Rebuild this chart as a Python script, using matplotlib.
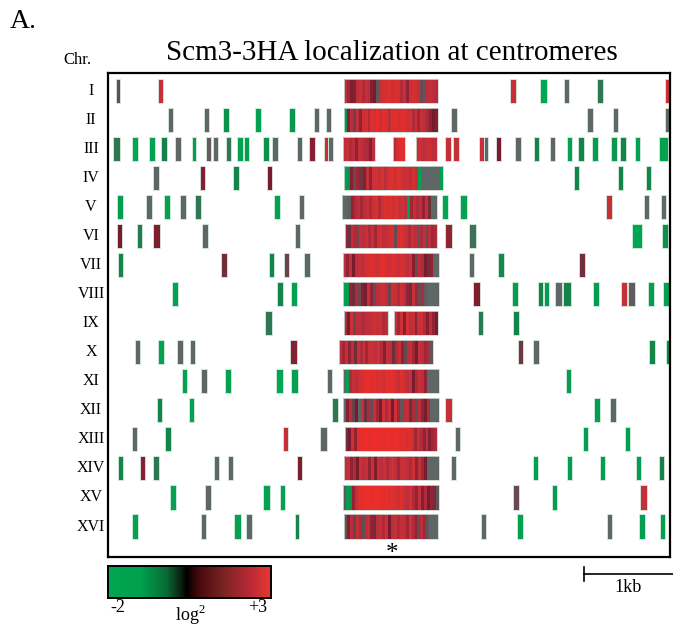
import numpy as np
import matplotlib
matplotlib.use("Agg")
import matplotlib.pyplot as plt
from matplotlib.colors import LinearSegmentedColormap, Normalize
from matplotlib.patches import Rectangle
import matplotlib.transforms as mtransforms

plt.rcParams['font.family'] = ['Liberation Serif', 'DejaVu Serif']
plt.rcParams['mathtext.fontset'] = 'custom'
plt.rcParams['mathtext.rm'] = 'Liberation Serif'

chromosomes = ['I', 'II', 'III', 'IV', 'V', 'VI', 'VII', 'VIII',
               'IX', 'X', 'XI', 'XII', 'XIII', 'XIV', 'XV', 'XVI']

# ---- isolated probes (bp relative to CEN), one list per chromosome ----
probe_start = [
    [-2760, -2340, 1180, 1480, 1720, 2050, 2730],
    [-2240, -1880, -1690, -1370, -1030, -780, -660, 590, 1950, 2210, 2730],
    [-2790, -2600, -2430, -2310, -2170, -2000, -1860, -1790, -1660, -1550, -1480,
     -1290, -1200, -950, -830, -680, -640, 530, 610, 870, 920, 1040, 1230, 1420,
     1580, 1750, 1860, 2000, 2190, 2280, 2430, 2670],
    [-2390, -1920, -1590, -1250, 1820, 2260, 2540],
    [-2750, -2460, -2280, -2120, -1970, -1180, -930, 500, 680, 2140, 2520, 2690],
    [-2750, -2550, -2390, -1900, -970, 530, 770, 2400, 2700],
    [-2740, -1710, -1230, -1080, -880, 770, 1060, 1870],
    [-2200, -1150, -1010, 810, 1200, 1460, 1520, 1630, 1710, 2010, 2290, 2360, 2560, 2710],
    [-1270, 860, 1210],
    [-2570, -2340, -2150, -2020, -1020, 1260, 1410, 2570, 2740],
    [-2100, -1910, -1670, -1160, -1010, -650, 1740],
    [-2350, -2030, -600, 530, 2020, 2180],
    [-2600, -2270, -1090, -720, 630, 1910, 2330],
    [-2740, -2520, -2390, -1780, -1640, -950, 590, 1410, 1750, 2080, 2440, 2670],
    [-2220, -1870, -1290, -1120, 1210, 1600, 2480],
    [-2600, -1910, -1580, -1460, -970, 890, 1250, 2150, 2470, 2680],
]
probe_end = [
    [-2720, -2290, 1240, 1550, 1770, 2110, 2790],
    [-2190, -1830, -1630, -1310, -970, -730, -610, 650, 2010, 2260, 2780],
    [-2720, -2540, -2370, -2250, -2110, -1960, -1810, -1740, -1610, -1490, -1430,
     -1230, -1140, -900, -770, -640, -590, 590, 670, 920, 960, 1090, 1290, 1470,
     1630, 1800, 1920, 2060, 2250, 2340, 2480, 2760],
    [-2330, -1870, -1530, -1200, 1870, 2310, 2590],
    [-2690, -2400, -2220, -2060, -1910, -1120, -880, 560, 750, 2200, 2570, 2740],
    [-2700, -2500, -2320, -1840, -920, 600, 840, 2500, 2760],
    [-2690, -1650, -1180, -1030, -820, 820, 1120, 1930],
    [-2140, -1090, -950, 880, 1260, 1510, 1570, 1700, 1790, 2070, 2350, 2430, 2620, 2770],
    [-1200, 910, 1270],
    [-2520, -2280, -2090, -1970, -950, 1310, 1470, 2630, 2790],
    [-2050, -1850, -1610, -1090, -940, -600, 1790],
    [-2300, -1980, -540, 600, 2080, 2240],
    [-2550, -2210, -1040, -650, 680, 1960, 2380],
    [-2690, -2470, -2330, -1730, -1590, -900, 640, 1460, 1800, 2130, 2490, 2720],
    [-2160, -1810, -1220, -1070, 1270, 1650, 2550],
    [-2540, -1860, -1510, -1400, -930, 940, 1310, 2200, 2530, 2730],
]
probe_log2 = [
    [0.3, 2.0, 2.0, -2.0, 0.0, -0.8, 2.2],
    [0.0, 0.0, -1.6, -1.9, -1.7, 0.0, 0.0, 0.0, 0.0, 0.0, 0.0],
    [-0.8, -2.0, -1.9, -1.2, 0.0, -1.8, 0.1, 0.0, -0.7, -1.9, -1.8,
     -1.6, 0.0, 0.0, 1.0, 2.0, 0.0, 2.0, 2.0, 2.0, 0.0, 0.8, 0.0, -1.2,
     0.0, -1.9, -1.3, -1.8, -1.7, -1.3, -1.9, -1.9],
    [0.0, 1.0, -1.3, 0.8, -1.3, -1.3, -1.3],
    [-1.8, 0.0, -1.9, 0.0, -0.8, -1.9, 0.0, -2.0, -1.9, 2.0, 0.0, 0.0],
    [0.8, -1.0, 0.9, 0.0, 0.0, 1.2, -0.5, -2.0, -1.5],
    [-1.3, 0.6, -1.3, 0.4, 0.0, 0.0, -1.4, 0.6],
    [-1.9, -1.3, -1.9, 0.9, -1.8, -1.2, -1.8, 0.0, -1.2, -1.8, 2.0, 0.1, -1.8, -1.9],
    [-0.8, -0.9, -1.3],
    [0.0, -1.9, 0.0, 0.0, 1.0, 0.5, 0.0, -1.3, -1.3],
    [-1.9, 0.0, -1.9, -2.0, -1.9, 0.0, -1.8],
    [-1.3, -1.9, -0.8, 2.0, -1.8, 0.0],
    [0.0, -1.3, 2.0, 0.0, 0.0, -1.8, -1.8],
    [-1.3, 1.0, -0.8, 0.0, 0.0, 0.9, 0.0, -1.8, -1.8, -1.8, -1.8, -1.2],
    [-1.9, 0.0, -1.9, -1.9, 0.3, -1.8, 2.0],
    [-1.9, 0.0, -1.9, 0.0, -1.3, 0.0, -1.9, 0.0, -1.8, -1.8],
]

# ---- centromere-proximal tiled region: extent (bp) and 32 consecutive probes ----
nan = float('nan')
cen_start = [-480, -480, -490, -480, -500, -470, -490, -490,
             -480, -530, -490, -490, -470, -480, -490, -480]
cen_end = [460, 460, 450, 510, 450, 450, 470, 470,
           460, 410, 470, 470, 450, 470, 470, 460]
cen_log2 = [
    [1.8, 1.4, 0.9, 1.0, 1.8, 2.2, 1.6, 2.0, 1.8, 1.0, 0.8, 0.2, 2.0, 2.3, 2.4, 2.6,
     2.2, 2.5, 2.4, 1.6, 2.0, 1.2, 2.2, 2.4, 2.2, 1.9, 0.3, 0.2, 1.8, 2.0, 1.8, 1.7],
    [-1.6, 1.0, 1.8, 0.4, 2.0, 1.2, 2.2, 2.4, 1.6, 2.6, 2.4, 2.8, 2.2, 2.7, 2.5, 1.8,
     2.6, 2.8, 2.4, 2.6, 2.8, 2.2, 2.4, 1.6, 2.2, 1.4, 2.0, 1.8, 1.5, 1.2, 0.8, 1.0],
    [1.8, 2.0, 1.6, 1.8, 1.2, 2.0, 1.8, 1.6, 1.6, 1.0, 1.8, nan, nan, nan, nan, nan,
     nan, 1.6, 2.4, 2.6, 2.8, nan, nan, nan, nan, 2.0, 2.2, 1.8, 2.0, 2.2, 1.8, 1.9],
    [-1.8, -1.6, 1.0, 0.3, 1.4, 0.5, 1.0, 2.0, 1.2, 2.2, 2.4, 2.0, 2.6, 1.8, 2.4, 2.6,
     2.2, 2.8, 2.4, 2.0, 2.2, 1.8, 2.4, 2.0, -1.9, 0.0, 0.0, 0.0, 0.0, 0.0, 0.0, -1.8],
    [0.0, 0.0, 0.1, 1.2, 1.6, 1.8, 1.4, 1.8, 2.0, 1.6, 2.2, 2.4, 1.6, 2.2, 2.6, 2.4,
     2.8, 2.2, 2.6, 2.0, 2.4, 1.8, -1.8, 1.4, 2.0, 1.6, 1.8, 1.2, 2.0, 0.6, 0.0, 0.0],
    [1.2, 0.6, 1.8, 1.6, 0.3, 2.0, 1.8, 2.2, 1.6, 2.0, 1.4, 2.2, 2.4, 1.8, 2.0, 2.2,
     2.4, 0.3, 2.4, 2.6, 2.2, 2.0, 1.6, 2.2, 1.8, 0.2, 1.6, 2.0, 0.3, 1.8, 1.4, 1.6],
    [1.8, 1.2, 2.0, 0.8, 1.8, 2.0, 1.8, 2.2, 2.4, 2.6, 2.4, 2.2, 2.6, 2.8, 2.4, 2.2,
     2.6, 2.4, 2.0, 2.4, 2.2, 1.8, 2.2, 1.0, 0.3, 1.8, 1.6, 0.8, 0.6, 1.2, 0.0, 0.0],
    [-1.9, -1.8, 1.2, 0.6, 1.6, 0.3, 1.0, 0.8, 2.0, 1.2, 0.3, 1.8, 2.0, 2.2, 1.8, 0.4,
     2.2, 2.0, 1.6, 2.2, 1.8, 1.2, 0.6, 2.0, 1.4, 0.3, 1.6, 0.1, 0.0, 0.0, 0.0, 0.0],
    [1.6, 0.8, 2.2, 0.3, 1.8, 1.8, 1.6, 1.8, 1.8, 2.0, 2.2, 2.0, 2.2, 1.6, 1.8, nan,
     nan, 2.0, 1.4, 2.2, 1.0, 2.4, 1.8, 2.0, 1.2, 2.0, 2.2, 1.6, 1.0, 1.8, 1.2, 0.8],
    [1.8, 1.4, 2.0, 1.2, 1.8, 0.6, 2.0, 1.6, 2.2, 1.4, 2.0, 2.2, 1.8, 2.4, 1.6, 1.0,
     2.0, 1.8, 0.6, 1.6, 2.0, 1.2, 0.3, 1.8, 2.0, 1.4, 0.8, 2.0, 1.8, 1.4, 1.6, 0.2],
    [0.0, -1.8, 1.6, 2.0, 1.8, 2.2, 2.4, 2.8, 2.9, 2.6, 2.8, 2.4, 2.6, 2.2, 2.8, 2.6,
     2.9, 2.4, 2.0, 2.6, 2.2, 1.8, 2.0, 0.8, 1.6, 2.0, 1.8, 1.2, 0.0, 0.0, 0.0, 0.0],
    [0.0, 1.0, 1.8, 0.4, 0.8, 0.0, 2.0, 0.6, 1.6, 0.3, 2.0, 1.4, 0.8, 2.2, 1.6, 2.0,
     0.8, 2.2, 1.4, 0.2, 1.8, 2.0, 0.6, 1.6, 0.3, 1.8, 1.2, 0.8, 1.6, 0.0, 0.0, 0.0],
    [0.6, 0.8, 2.2, 1.2, 2.6, 2.8, 2.9, 3.0, 2.8, 2.9, 3.0, 2.9, 3.0, 2.8, 3.0, 2.9,
     2.8, 3.0, 2.9, 2.7, 2.8, 2.4, 2.6, 2.2, 1.4, 2.0, 1.6, 1.2, 1.8, 1.0, 1.4, 1.6],
    [1.8, 2.0, 1.2, 1.6, 0.8, 2.2, 1.8, 2.0, 1.2, 2.2, 0.9, 2.0, 1.8, 2.2, 1.6, 2.0,
     2.4, 1.8, 1.4, 2.0, 2.2, 1.8, 1.6, 2.2, 1.2, 2.0, 1.4, 0.8, 0.0, 0.0, 0.0, 0.0],
    [0.2, -1.8, -1.6, 1.2, 2.0, 2.6, 2.8, 2.9, 3.0, 2.8, 2.9, 3.0, 2.8, 2.7, 2.9, 2.6,
     2.8, 2.4, 2.2, 2.6, 2.0, 1.8, 2.4, 1.6, 1.2, 2.0, 1.0, 1.6, 0.8, 1.2, 0.6, 0.2],
    [0.2, 1.0, 1.8, 0.4, 2.0, 1.6, 0.3, 1.8, 2.0, 1.2, 0.6, 1.8, 2.0, 1.6, 2.2, 0.8,
     1.8, 2.0, 1.6, 2.0, 1.8, 1.4, 2.2, 1.6, 1.2, 0.3, 1.8, 1.4, 0.2, 0.0, 0.0, 0.0],
]

log2_min, log2_max = -2, 3
scale_bar_bp = 1000

# ---- colour maps ----
def pos(v):
    return (v - log2_min) / (log2_max - log2_min)

bar_cmap = LinearSegmentedColormap.from_list('bars', [
    (pos(-2.0), '#00a651'), (pos(-1.2), '#16804a'), (pos(0.0), '#5e6666'),
    (pos(0.8), '#761c2e'), (pos(1.8), '#bd2e3c'), (pos(2.5), '#d8302f'),
    (pos(3.0), '#ee2c2a')])
key_cmap = LinearSegmentedColormap.from_list('key', [
    (0.0, '#00a651'), (0.2, '#00a04e'), (0.36, '#0a6a35'), (0.45, '#0a1f12'),
    (0.48, '#000000'), (0.56, '#4a0a0e'), (0.72, '#7e2424'), (0.87, '#b82a35'),
    (1.0, '#e8382f')])
norm = Normalize(log2_min, log2_max)

W, H = 673, 630
fig = plt.figure(figsize=(W / 100, H / 100), dpi=100)
ax = fig.add_axes([108 / W, 1 - 557 / H, (670 - 108) / W, (557 - 73) / H])

bar_h = 0.83
for i in range(len(chromosomes)):
    # isolated probes
    for s, e, v in zip(probe_start[i], probe_end[i], probe_log2[i]):
        ax.add_patch(Rectangle((s, i - bar_h / 2), e - s, bar_h,
                               facecolor=bar_cmap(norm(v)), edgecolor='#d9ebe0',
                               linewidth=0.6))
    # dense centromeric region
    vals = np.array(cen_log2[i], dtype=float)
    edges = np.linspace(cen_start[i], cen_end[i], len(vals) + 1)
    ax.pcolormesh(edges, [i - bar_h / 2, i + bar_h / 2],
                  np.ma.masked_invalid(vals[None, :]), cmap=bar_cmap, norm=norm,
                  shading='flat', antialiased=False, linewidth=0)
    # outline contiguous runs
    valid = ~np.isnan(vals)
    k = 0
    while k < len(vals):
        if valid[k]:
            j = k
            while j < len(vals) and valid[j]:
                j += 1
            ax.add_patch(Rectangle((edges[k], i - bar_h / 2), edges[j] - edges[k], bar_h,
                                   facecolor='none', edgecolor='#ccd8d0', linewidth=0.6))
            k = j
        else:
            k += 1

ax.set_xlim(-2840, 2780)
ax.set_ylim(len(chromosomes) - 1 + 1.05, -0.62)
ax.set_xticks([])
ax.set_yticks([])
for sp in ax.spines.values():
    sp.set_linewidth(1.6)
    sp.set_color('black')

# row labels
trans_lab = mtransforms.blended_transform_factory(fig.transFigure, ax.transData)
for i, name in enumerate(chromosomes):
    fig.text(91 / W, i, name, transform=trans_lab, ha='center', va='center', fontsize=11.5)

# asterisk under the centromeres
ax.text(0, 15.95, '*', ha='center', va='center', fontsize=18, clip_on=False)

fig.text(392 / W, 1 - 53 / H, 'Scm3-3HA localization at centromeres',
         ha='center', va='center', fontsize=21)
fig.text(77 / W, 1 - 60 / H, 'Chr.', ha='center', va='center', fontsize=12)
fig.text(10 / W, 1 - 22 / H, 'A.', ha='left', va='center', fontsize=20)

# colour key
cax = fig.add_axes([108 / W, 1 - 598 / H, (271 - 108) / W, (598 - 566) / H])
grad = np.linspace(log2_min, log2_max, 256)[None, :]
cax.imshow(grad, aspect='auto', cmap=key_cmap, norm=norm,
           extent=[log2_min, log2_max, 0, 1])
cax.set_xticks([])
cax.set_yticks([])
for sp in cax.spines.values():
    sp.set_linewidth(1.4)
fig.text(118 / W, 1 - 607 / H, '%d' % log2_min, ha='center', va='center', fontsize=13)
fig.text(258 / W, 1 - 607 / H, '+%d' % log2_max, ha='center', va='center', fontsize=13)
fig.text(190 / W, 1 - 615 / H, r'log$^{2}$', ha='center', va='center', fontsize=13)

# scale bar
trans_sb = mtransforms.blended_transform_factory(ax.transData, fig.transFigure)
x0 = 1920
ax.plot([x0, x0 + scale_bar_bp], [1 - 574 / H] * 2, color='black', lw=1.2,
        transform=trans_sb, clip_on=False)
ax.plot([x0, x0], [1 - 567 / H, 1 - 581 / H], color='black', lw=1.2,
        transform=trans_sb, clip_on=False)
ax.text(x0 + 440, 1 - 587 / H, '1kb', transform=trans_sb, ha='center', va='center',
        fontsize=13)

fig.savefig('out.png', dpi=100)
